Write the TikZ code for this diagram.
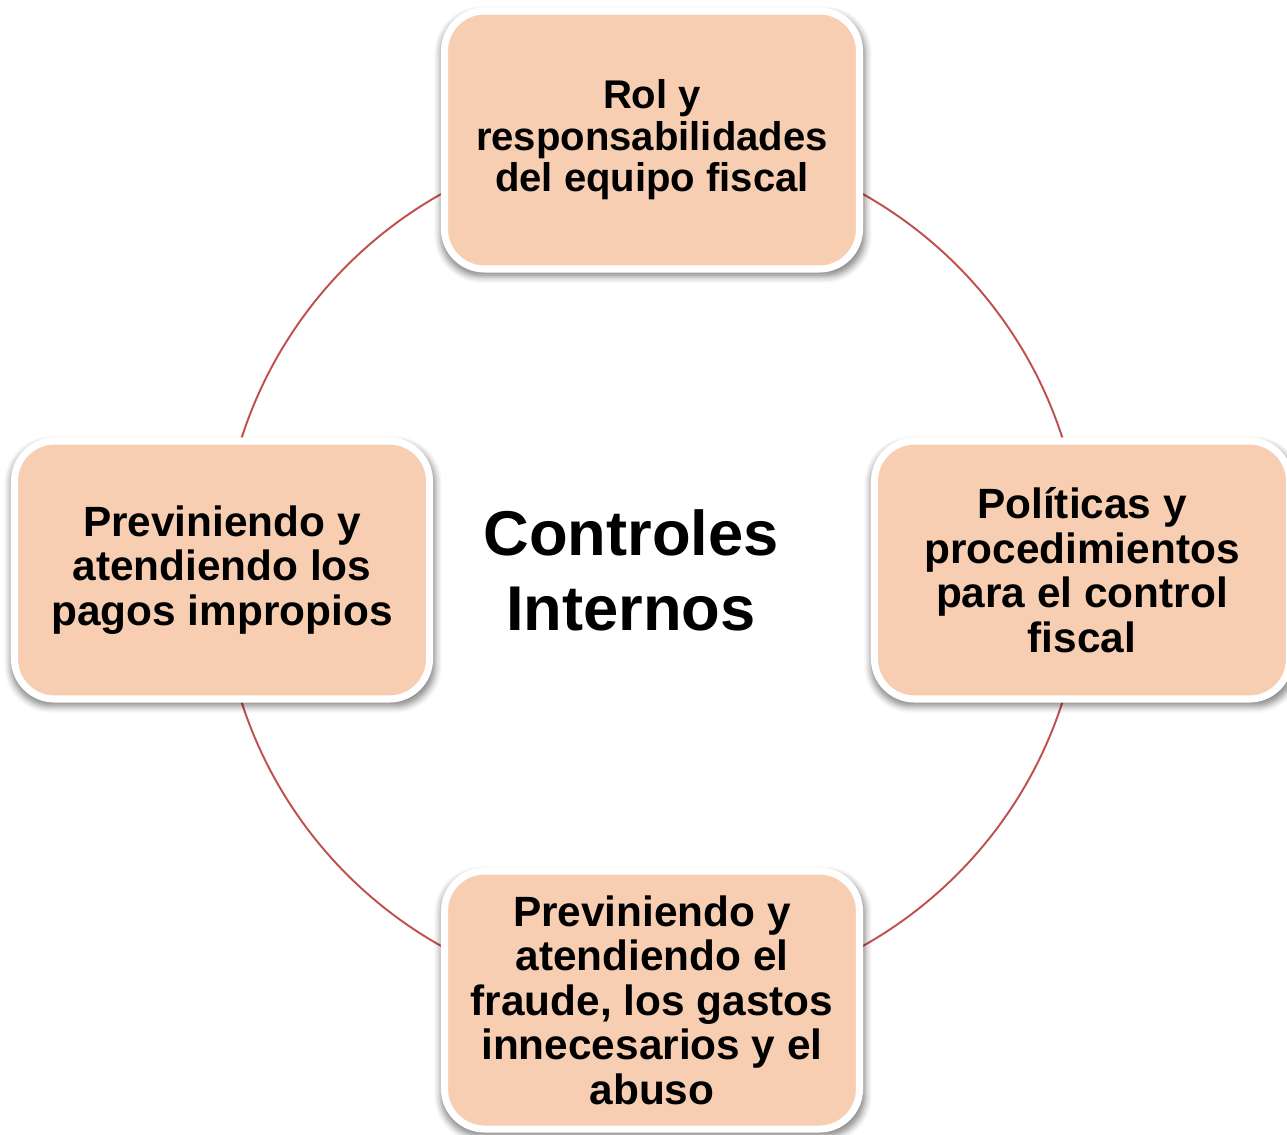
\documentclass[tikz,border=0pt]{standalone}
\usepackage{fontspec}
\setmainfont{Liberation Sans}
\usetikzlibrary{shadows,shadows.blur}
\definecolor{Peach}{RGB}{247,206,178}
\definecolor{RingRed}{RGB}{192,80,77}

\begin{document}
\begin{tikzpicture}[node distance=8.6cm, every node/.style={font=\bfseries}]
  \tikzstyle{box}=[draw=white, line width=4pt, rounded corners=0.8cm, fill=Peach,
                   blur shadow={shadow xshift=0.02cm, shadow yshift=-0.09cm,
                                shadow scale=1.025, shadow blur radius=0.12cm,
                                shadow opacity=45},
                   align=center, minimum width=8.3cm, minimum height=5.16cm,
                   font=\fontsize{24.1}{25.3}\selectfont\bfseries]
  \useasboundingbox (0,0) rectangle (25.74,-22.68);
  \coordinate (hub) at (13.04,-11.4);
  \node[align=center, font=\fontsize{36}{42.7}\selectfont\bfseries] (ctr) at (12.62,-11.4)
    {Controles\\Internos};
  \draw[RingRed, line width=1.1pt] (hub) circle[radius=8.62cm];
  \node[box, above of=hub, font=\fontsize{22.8}{23.6}\selectfont\bfseries] (rol)
    {Rol y\\responsabilidades\\del equipo fiscal};
  \node[box, right of=hub] (polit)  {Políticas y\\procedimientos\\para el control\\fiscal};
  \node[box, below of=hub] (fraude) {Previniendo y\\atendiendo el\\fraude, los gastos\\innecesarios y el\\abuso};
  \node[box, left of=hub]  (pagos)  {Previniendo y\\atendiendo los\\pagos impropios};
\end{tikzpicture}
\end{document}
